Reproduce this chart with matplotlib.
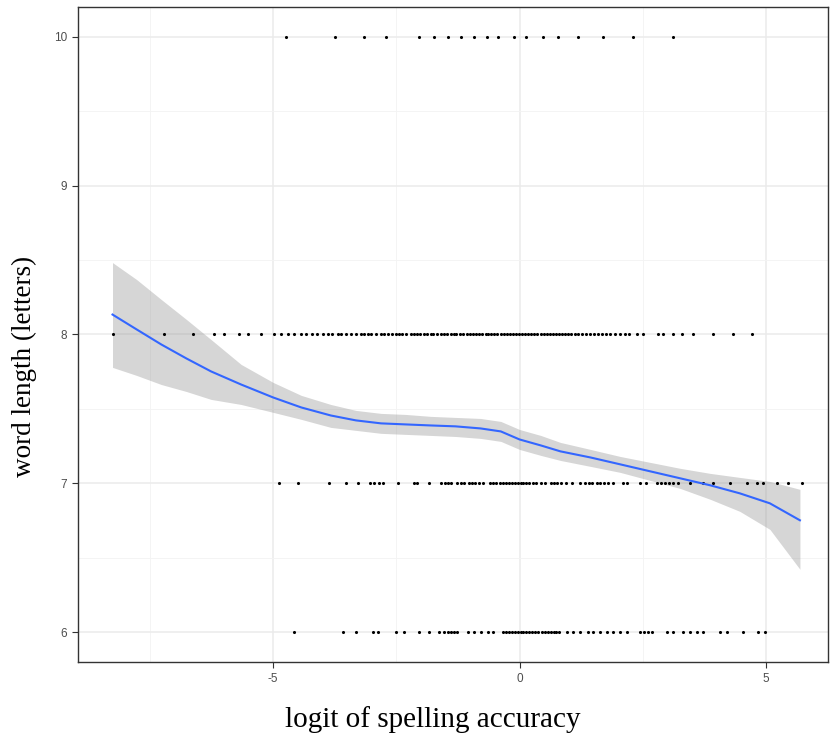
import matplotlib
matplotlib.use("Agg")
import matplotlib.pyplot as plt

plt.rcParams["axes.unicode_minus"] = False

# Observed words: logit of spelling accuracy, grouped by word length
x_len10 = [-4.74, -3.74, -3.16, -2.71, -2.04, -1.74, -1.46, -1.19, -0.93, -0.67,
           -0.43, -0.12, 0.14, 0.47, 0.79, 1.19, 1.70, 2.31, 3.12]
x_len8 = [-8.26, -7.21, -6.62, -6.21, -5.99, -5.69, -5.51, -5.24, -4.98, -4.84,
          -4.70, -4.57, -4.43, -4.33, -4.21, -4.11, -3.99, -3.89, -3.81, -3.68,
          -3.62, -3.52, -3.42, -3.32, -3.22, -3.16, -3.08, -3.02, -2.91, -2.81,
          -2.75, -2.67, -2.59, -2.51, -2.45, -2.39, -2.31, -2.21, -2.15, -2.09,
          -2.01, -1.94, -1.88, -1.80, -1.76, -1.68, -1.60, -1.54, -1.48, -1.40,
          -1.34, -1.28, -1.21, -1.15, -1.07, -1.01, -0.95, -0.89, -0.83, -0.77,
          -0.69, -0.63, -0.57, -0.51, -0.45, -0.38, -0.32, -0.26, -0.20, -0.14,
          -0.08, -0.02, 0.04, 0.12, 0.18, 0.24, 0.30, 0.36, 0.43, 0.49,
          0.55, 0.61, 0.67, 0.75, 0.81, 0.87, 0.93, 0.99, 1.05, 1.13,
          1.19, 1.26, 1.34, 1.44, 1.52, 1.60, 1.68, 1.76, 1.84, 1.94,
          2.04, 2.15, 2.23, 2.39, 2.51, 2.81, 2.91, 3.12, 3.30, 3.52,
          3.93, 4.33, 4.72]
x_len7 = [-4.88, -4.49, -3.87, -3.52, -3.28, -3.04, -2.96, -2.85, -2.77, -2.47,
          -2.15, -2.09, -1.84, -1.60, -1.52, -1.46, -1.40, -1.26, -1.19, -1.13,
          -1.03, -0.97, -0.91, -0.83, -0.75, -0.59, -0.53, -0.47, -0.40, -0.34,
          -0.28, -0.22, -0.16, -0.10, -0.04, 0.02, 0.08, 0.14, 0.20, 0.28,
          0.34, 0.43, 0.51, 0.63, 0.69, 0.77, 0.85, 0.95, 1.07, 1.23,
          1.32, 1.40, 1.48, 1.58, 1.64, 1.72, 1.80, 1.90, 2.09, 2.19,
          2.45, 2.57, 2.79, 2.87, 2.96, 3.04, 3.12, 3.22, 3.46, 3.72,
          3.93, 4.27, 4.62, 4.82, 4.94, 5.22, 5.45, 5.73]
x_len6 = [-4.57, -3.58, -3.32, -2.98, -2.87, -2.51, -2.35, -2.04, -1.84, -1.64,
          -1.54, -1.46, -1.40, -1.34, -1.26, -1.05, -0.93, -0.79, -0.65, -0.53,
          -0.34, -0.28, -0.22, -0.16, -0.10, -0.04, 0.02, 0.08, 0.14, 0.20,
          0.26, 0.32, 0.38, 0.45, 0.51, 0.57, 0.63, 0.69, 0.75, 0.81,
          0.97, 1.09, 1.23, 1.38, 1.50, 1.64, 1.78, 1.90, 2.04, 2.19,
          2.45, 2.53, 2.61, 2.69, 3.00, 3.12, 3.32, 3.46, 3.60, 3.72,
          4.07, 4.21, 4.53, 4.84, 4.98]

# Smoothed trend with its confidence band
fit_x = [-8.26, -7.77, -7.27, -6.76, -6.26, -5.65, -5.00, -4.43, -3.83, -3.32,
         -2.81, -2.31, -1.80, -1.30, -0.79, -0.38, 0.00, 0.43, 0.83, 1.44,
         2.04, 2.65, 3.26, 3.87, 4.47, 5.08, 5.69]
fit_y = [8.134, 8.034, 7.933, 7.839, 7.752, 7.664, 7.577, 7.510, 7.456, 7.423,
         7.403, 7.396, 7.389, 7.383, 7.369, 7.349, 7.295, 7.255, 7.215, 7.174,
         7.128, 7.081, 7.034, 6.987, 6.933, 6.866, 6.752]
fit_hi = [8.483, 8.369, 8.235, 8.101, 7.966, 7.799, 7.678, 7.591, 7.530, 7.490,
          7.470, 7.463, 7.450, 7.443, 7.436, 7.416, 7.362, 7.322, 7.275, 7.228,
          7.181, 7.141, 7.101, 7.067, 7.040, 7.013, 6.960]
fit_lo = [7.779, 7.725, 7.664, 7.617, 7.564, 7.530, 7.477, 7.430, 7.376, 7.356,
          7.336, 7.329, 7.322, 7.315, 7.302, 7.282, 7.228, 7.188, 7.154, 7.114,
          7.074, 7.020, 6.966, 6.893, 6.812, 6.691, 6.423]

x_ticks = [-5, 0, 5]
y_ticks = [6, 7, 8, 9, 10]

fig = plt.figure(figsize=(8.3, 7.43), dpi=100)
ax = fig.add_axes([0.094, 0.109, 0.9036, 0.8816])

ax.set_xlim(-8.96, 6.26)
ax.set_ylim(5.8, 10.2)

# theme_bw-style grid
ax.set_xticks(x_ticks)
ax.set_yticks(y_ticks)
ax.set_xticks([-7.5, -2.5, 2.5], minor=True)
ax.set_yticks([6.5, 7.5, 8.5, 9.5], minor=True)
ax.grid(which="major", color="#EBEBEB", linewidth=1.1)
ax.grid(which="minor", color="#F3F3F3", linewidth=0.6)
ax.set_axisbelow(True)
ax.tick_params(which="minor", length=0)
ax.tick_params(which="major", length=4, width=0.8, color="#333333",
               labelcolor="#4D4D4D", labelsize=8.5, pad=4)
for lbl in ax.get_xticklabels() + ax.get_yticklabels():
    lbl.set_family("Liberation Sans")
for sp in ax.spines.values():
    sp.set_color("#333333")
    sp.set_linewidth(1.0)

for yv, xs in [(10, x_len10), (8, x_len8), (7, x_len7), (6, x_len6)]:
    ax.scatter(xs, [yv] * len(xs), s=5, color="black", linewidths=0, zorder=3)

ax.fill_between(fit_x, fit_lo, fit_hi, color="#999999", alpha=0.4,
                linewidth=0, zorder=2)
ax.plot(fit_x, fit_y, color="#3366FF", linewidth=1.5, zorder=4,
        solid_joinstyle="round")

fig.text(433 / 830, 1 - 720 / 743, "logit of spelling accuracy",
         family="Liberation Serif", fontsize=21, ha="center", va="center")
fig.text(24.5 / 830, 1 - 366 / 743, "word length (letters)",
         family="Liberation Serif", fontsize=19.5, ha="center", va="center",
         rotation=90)

fig.savefig("out.png", dpi=100, facecolor="white")
